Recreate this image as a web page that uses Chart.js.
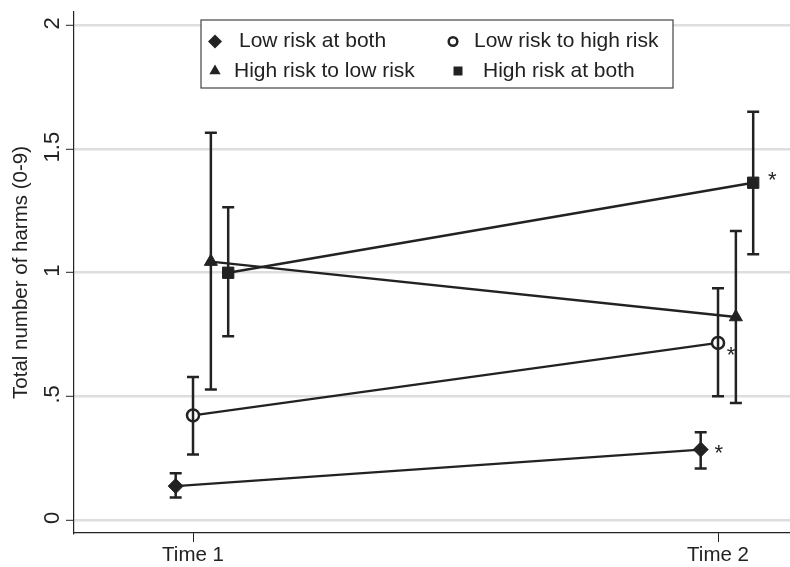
<!DOCTYPE html>
<html>
<head>
<meta charset="utf-8">
<script src="https://cdn.jsdelivr.net/npm/chart.js@4.4.1/dist/chart.umd.min.js"></script>
<style>
  html, body { margin: 0; padding: 0; background: #fff; }
</style>
</head>
<body>
<canvas id="chart" width="790" height="567"></canvas>
<script>
const times = [1, 2];
const timeLabels = ["Time 1", "Time 2"];
const seriesNames = ["Low risk at both", "Low risk to high risk", "High risk to low risk", "High risk at both"];
const yTicks = [0, 0.5, 1, 1.5, 2];

// means and CI ends
const lowBoth = [0.137, 0.285];
const lowBothLo = [0.091, 0.208];
const lowBothHi = [0.189, 0.355];
const lowToHigh = [0.423, 0.716];
const lowToHighLo = [0.265, 0.5];
const lowToHighHi = [0.578, 0.937];
const highToLow = [1.045, 0.821];
const highToLowLo = [0.528, 0.473];
const highToLowHi = [1.566, 1.169];
const highBoth = [1.0, 1.364];
const highBothLo = [0.743, 1.075];
const highBothHi = [1.265, 1.651];
// asterisk at Time 2
const starred = [true, true, false, true];

const INK = "#222";
const FONT = '"Liberation Sans", Arial, sans-serif';

const series = [
  { name: seriesNames[0], mean: lowBoth, lo: lowBothLo, hi: lowBothHi, star: starred[0] },
  { name: seriesNames[1], mean: lowToHigh, lo: lowToHighLo, hi: lowToHighHi, star: starred[1] },
  { name: seriesNames[2], mean: highToLow, lo: highToLowLo, hi: highToLowHi, star: starred[2] },
  { name: seriesNames[3], mean: highBoth, lo: highBothLo, hi: highBothHi, star: starred[3] },
];

// marker look, horizontal dodge, asterisk offset, legend slot
const looks = [
  { pointStyle: "rectRot", radius: 7.5, fill: INK, borderWidth: 1, dodge: -0.033, starOff: [18, 2],
    legend: { shape: "diamond", r: 7, mx: 215, tx: 239, y: 41.5 } },
  { pointStyle: "circle", radius: 6, fill: "#fff", borderWidth: 2.5, dodge: 0, starOff: [13, 11],
    legend: { shape: "circle", r: 4.3, mx: 453, tx: 474, y: 41.5 } },
  { pointStyle: "triangle", radius: 7.5, fill: INK, borderWidth: 1, dodge: 0.034, starOff: [0, 0],
    legend: { shape: "triangle", r: 6.5, mx: 215, tx: 234, y: 71 } },
  { pointStyle: "rect", radius: 8, fill: INK, borderWidth: 1, dodge: 0.067, starOff: [19, -4],
    legend: { shape: "square", r: 4.5, mx: 458, tx: 483, y: 71 } },
];

function marker(ctx, shape, cx, cy, r) {
  ctx.beginPath();
  if (shape === "diamond") {
    ctx.moveTo(cx, cy - r); ctx.lineTo(cx + r, cy); ctx.lineTo(cx, cy + r); ctx.lineTo(cx - r, cy);
    ctx.closePath(); ctx.fill();
  } else if (shape === "circle") {
    ctx.arc(cx, cy, r, 0, Math.PI * 2);
    ctx.lineWidth = 2.5; ctx.stroke();
  } else if (shape === "triangle") {
    ctx.moveTo(cx, cy - r); ctx.lineTo(cx + 0.866 * r, cy + r / 2); ctx.lineTo(cx - 0.866 * r, cy + r / 2);
    ctx.closePath(); ctx.fill();
  } else {
    ctx.rect(cx - r, cy - r, 2 * r, 2 * r); ctx.fill();
  }
}

const extras = {
  id: "extras",
  afterDatasetsDraw(chart) {
    const { ctx, scales: { x, y } } = chart;
    ctx.save();
    ctx.strokeStyle = INK;
    ctx.lineWidth = 2.5;
    series.forEach((s, i) => {
      times.forEach((t, j) => {
        const px = x.getPixelForValue(t + looks[i].dodge);
        const top = y.getPixelForValue(s.hi[j]);
        const bot = y.getPixelForValue(s.lo[j]);
        ctx.beginPath();
        ctx.moveTo(px, top); ctx.lineTo(px, bot);
        ctx.moveTo(px - 6, top); ctx.lineTo(px + 6, top);
        ctx.moveTo(px - 6, bot); ctx.lineTo(px + 6, bot);
        ctx.stroke();
      });
      if (s.star) {
        const px = x.getPixelForValue(times[1] + looks[i].dodge) + looks[i].starOff[0];
        const py = y.getPixelForValue(s.mean[1]) + looks[i].starOff[1];
        ctx.fillStyle = INK;
        ctx.font = "22px " + FONT;
        ctx.textAlign = "center";
        ctx.textBaseline = "middle";
        ctx.fillText("*", px, py + 2);
      }
    });
    ctx.restore();
  },
  afterDraw(chart) {
    const { ctx, scales: { y } } = chart;
    ctx.save();
    // rotated y tick labels
    ctx.fillStyle = INK;
    ctx.font = "22px " + FONT;
    ctx.textAlign = "center";
    ctx.textBaseline = "middle";
    yTicks.forEach(v => {
      const py = y.getPixelForValue(v);
      ctx.save();
      ctx.translate(53, py - 2);
      ctx.rotate(-Math.PI / 2);
      ctx.fillText(v === 0 ? "0" : String(v).replace(/^0/, ""), 0, 0);
      ctx.restore();
    });
    // legend box
    ctx.fillStyle = "#fff";
    ctx.fillRect(201, 20, 472, 68);
    ctx.strokeStyle = "#444";
    ctx.lineWidth = 1.2;
    ctx.strokeRect(201, 20, 472, 68);
    series.forEach((s, i) => {
      const L = looks[i].legend;
      ctx.fillStyle = INK;
      ctx.strokeStyle = INK;
      marker(ctx, L.shape, L.mx, L.y, L.r);
      ctx.font = "21px " + FONT;
      ctx.textAlign = "left";
      ctx.textBaseline = "middle";
      ctx.fillText(s.name, L.tx, L.y);
    });
    ctx.restore();
  }
};

new Chart(document.getElementById("chart"), {
  type: "scatter",
  data: {
    datasets: series.map((s, i) => ({
      label: s.name,
      data: times.map((t, j) => ({ x: t + looks[i].dodge, y: s.mean[j] })),
      showLine: true,
      borderColor: INK,
      borderWidth: 2.3,
      pointStyle: looks[i].pointStyle,
      pointRadius: looks[i].radius,
      pointBackgroundColor: looks[i].fill,
      pointBorderColor: INK,
      pointBorderWidth: looks[i].borderWidth,
    })),
  },
  plugins: [extras],
  options: {
    responsive: false,
    devicePixelRatio: 1,
    animation: false,
    layout: { autoPadding: false, padding: { top: 12, left: 0, right: 0, bottom: 0 } },
    plugins: { legend: { display: false }, tooltip: { enabled: false } },
    scales: {
      x: {
        type: "linear",
        min: 0.7733,
        max: 2.1371,
        afterBuildTicks: s => { s.ticks = times.map(v => ({ value: v })); },
        afterFit: s => { s.height = 34; s.paddingLeft = 0; s.paddingRight = 0; },
        ticks: {
          color: INK,
          font: { family: FONT, size: 20.5 },
          padding: 1,
          maxRotation: 0,
          autoSkip: false,
          callback: v => timeLabels[times.indexOf(v)] ?? "",
        },
        grid: { drawOnChartArea: false, tickColor: INK, tickLength: 9, tickWidth: 1 },
        border: { color: INK, width: 1.2 },
      },
      y: {
        min: -0.0526,
        max: 2.0546,
        afterBuildTicks: s => { s.ticks = yTicks.map(v => ({ value: v })); },
        afterFit: s => { s.width = 74; s.paddingTop = 0; s.paddingBottom = 0; },
        ticks: { display: false },
        grid: { color: "#dedede", lineWidth: 2.6, tickColor: INK, tickLength: 8, tickWidth: 1 },
        border: { color: INK, width: 1.2 },
        title: {
          display: true,
          text: "Total number of harms (0-9)",
          color: INK,
          font: { family: FONT, size: 20.5 },
          padding: { top: 9, bottom: 0 },
        },
      },
    },
  },
});
</script>
</body>
</html>
